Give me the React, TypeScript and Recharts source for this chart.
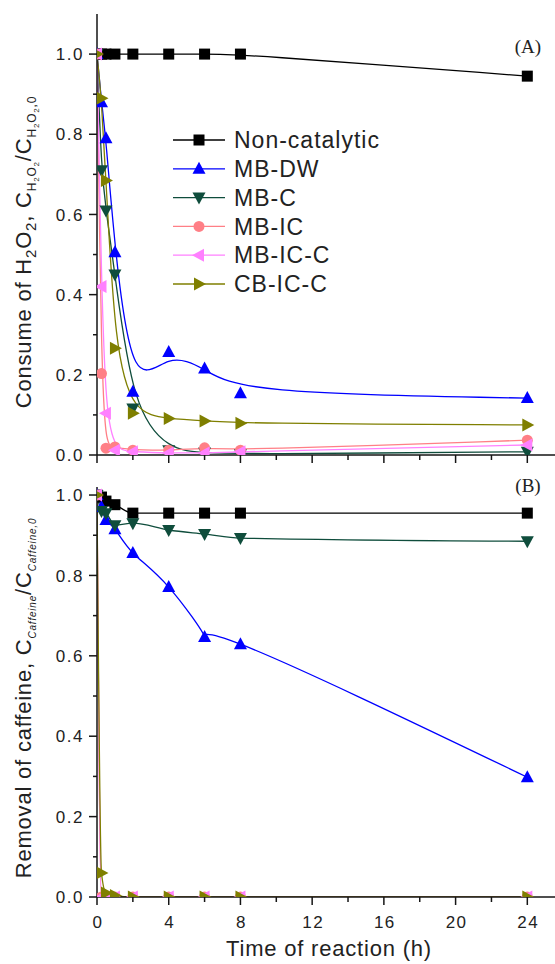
import { Line, LineChart, XAxis, YAxis } from 'recharts';

// sampling times (h)
const time = [0, 0.25, 0.5, 1, 2, 4, 6, 8, 24];

// (A) H2O2 consumption, C/C0
const h2o2NonCat = [1.0, 1.0, 1.0, 1.0, 1.0, 1.0, 1.0, 1.0, 0.945];
const h2o2MbDw = [1.0, 0.88, 0.79, 0.506, 0.158, 0.257, 0.216, 0.154, 0.142];
const h2o2MbC = [1.0, 0.71, 0.61, 0.45, 0.116, 0.012, 0.006, 0.002, 0.008];
const h2o2MbIc = [1.0, 0.203, 0.017, 0.02, 0.012, 0.012, 0.018, 0.012, 0.037];
const h2o2MbIcC = [1.0, 0.42, 0.104, 0.012, 0.008, 0.005, 0.005, 0.008, 0.025];
const h2o2CbIcC = [1.0, 0.89, 0.685, 0.266, 0.104, 0.091, 0.085, 0.079, 0.075];

// (B) caffeine removal, C/C0
const cafNonCat = [1.0, 0.995, 0.985, 0.976, 0.955, 0.955, 0.955, 0.955, 0.955];
const cafMbDw = [1.0, 0.97, 0.938, 0.915, 0.856, 0.771, 0.647, 0.629, 0.298];
const cafMbC = [1.0, 0.96, 0.955, 0.925, 0.93, 0.913, 0.903, 0.893, 0.885];
const cafMbIc = [1.0, 0, 0, 0, 0, 0, 0, 0, 0];
const cafMbIcC = [1.0, 0, 0, 0, 0, 0, 0, 0, 0];
const cafCbIcC = [1.0, 0.06, 0.01, 0.004, 0, 0, 0, 0, 0];

const xTicks = [0, 2, 4, 6, 8, 10, 12, 14, 16, 18, 20, 22, 24];
const yTicks = [0, 0.1, 0.2, 0.3, 0.4, 0.5, 0.6, 0.7, 0.8, 0.9, 1.0];

const seriesNames = ['Non-catalytic', 'MB-DW', 'MB-C', 'MB-IC', 'MB-IC-C', 'CB-IC-C'];
const seriesKeys = ['nonCat', 'mbDw', 'mbC', 'mbIc', 'mbIcC', 'cbIcC'];
const seriesColors = ['#000000', '#0000FF', '#0F4D3C', '#FF7F86', '#FF80FF', '#7F7F00'];
const seriesShapes = ['square', 'up', 'down', 'circle', 'left', 'right'];

type Curve = 'basis' | 'monotone' | 'natural';
const h2o2Curves: Curve[] = ['basis', 'basis', 'basis', 'basis', 'basis', 'basis'];
const cafCurves: Curve[] = ['monotone', 'natural', 'monotone', 'monotone', 'monotone', 'monotone'];

const toRows = (cols: number[][]) =>
  time.map((t, i) => {
    const row: Record<string, number> = { t };
    seriesKeys.forEach((k, j) => (row[k] = cols[j][i]));
    return row;
  });

const h2o2Data = toRows([h2o2NonCat, h2o2MbDw, h2o2MbC, h2o2MbIc, h2o2MbIcC, h2o2CbIcC]);
const cafData = toRows([cafNonCat, cafMbDw, cafMbC, cafMbIc, cafMbIcC, cafCbIcC]);

const font = '"Liberation Sans", Arial, sans-serif';
const axisColor = '#151515';
const X_MAX = 25.6;

function Marker({ shape, cx, cy, color }: { shape: string; cx: number; cy: number; color: string }) {
  switch (shape) {
    case 'square':
      return <rect x={cx - 5.5} y={cy - 5.5} width={11} height={11} fill={color} />;
    case 'up':
      return <polygon points={`${cx},${cy - 7} ${cx + 6.5},${cy + 5} ${cx - 6.5},${cy + 5}`} fill={color} />;
    case 'down':
      return <polygon points={`${cx - 6.5},${cy - 5} ${cx + 6.5},${cy - 5} ${cx},${cy + 7}`} fill={color} />;
    case 'circle':
      return <circle cx={cx} cy={cy} r={5.5} fill={color} />;
    case 'left':
      return <polygon points={`${cx - 7},${cy} ${cx + 5},${cy - 6.5} ${cx + 5},${cy + 6.5}`} fill={color} />;
    default:
      return <polygon points={`${cx + 7},${cy} ${cx - 5},${cy - 6.5} ${cx - 5},${cy + 6.5}`} fill={color} />;
  }
}

const isMajorX = (v: number) => v % 4 === 0;
const isMajorY = (v: number) => Math.round(v * 10) % 2 === 0;

const tickText = {
  fontFamily: font,
  fontSize: 17,
  letterSpacing: 1.5,
  fill: '#222',
};

const bottomTick = (labels: boolean) => (p: any) => {
  const v = p.payload.value;
  const len = isMajorX(v) ? 8 : 5;
  return (
    <g>
      <line x1={p.x} x2={p.x} y1={p.y} y2={p.y + len} stroke={axisColor} strokeWidth={1.5} />
      {labels && isMajorX(v) && (
        <text x={p.x + 1} y={p.y + 31} textAnchor="middle" {...tickText}>
          {v}
        </text>
      )}
    </g>
  );
};

const topTick = (p: any) => {
  const len = isMajorX(p.payload.value) ? 8 : 4;
  return <line x1={p.x} x2={p.x} y1={p.y} y2={p.y + len} stroke={axisColor} strokeWidth={1.5} />;
};

const leftTick = (p: any) => {
  const v = p.payload.value;
  const len = isMajorY(v) ? 8 : 4;
  return (
    <g>
      <line x1={p.x - len} x2={p.x} y1={p.y} y2={p.y} stroke={axisColor} strokeWidth={1.5} />
      {isMajorY(v) && (
        <text x={p.x - 13} y={p.y} dy="0.36em" textAnchor="end" {...tickText}>
          {v.toFixed(1)}
        </text>
      )}
    </g>
  );
};

const rightTick = (p: any) => {
  const len = isMajorY(p.payload.value) ? 7 : 3;
  return <line x1={p.x - len} x2={p.x} y1={p.y} y2={p.y} stroke={axisColor} strokeWidth={1.5} />;
};

function Panel({
  data,
  yMax,
  curves,
  top,
  height,
  marginTop,
  xHeight,
  labels,
  topAxis,
}: {
  data: Record<string, number>[];
  yMax: number;
  curves: Curve[];
  top: number;
  height: number;
  marginTop: number;
  xHeight: number;
  labels: boolean;
  topAxis: boolean;
}) {
  return (
    <div style={{ position: 'absolute', left: 0, top }}>
      <LineChart width={575} height={height} data={data} margin={{ top: marginTop, right: 19, left: 0, bottom: 0 }}>
        <XAxis
          dataKey="t"
          type="number"
          domain={[0, X_MAX]}
          allowDataOverflow
          ticks={xTicks}
          interval={0}
          height={xHeight}
          tickSize={0}
          tickMargin={0}
          tickLine={false}
          tick={bottomTick(labels)}
          axisLine={{ stroke: axisColor, strokeWidth: 1.5 }}
        />
        {topAxis && (
          <XAxis
            xAxisId="top"
            orientation="top"
            dataKey="t"
            type="number"
            domain={[0, X_MAX]}
            allowDataOverflow
            ticks={xTicks}
            interval={0}
            height={0}
            tickSize={0}
            tickMargin={0}
            tickLine={false}
            tick={topTick}
            axisLine={{ stroke: axisColor, strokeWidth: 1.5 }}
          />
        )}
        <YAxis
          type="number"
          domain={[0, yMax]}
          allowDataOverflow
          ticks={yTicks}
          interval={0}
          width={97}
          tickSize={0}
          tickMargin={0}
          tickLine={false}
          tick={leftTick}
          axisLine={{ stroke: axisColor, strokeWidth: 1.5 }}
        />
        <YAxis
          yAxisId="right"
          orientation="right"
          type="number"
          domain={[0, yMax]}
          allowDataOverflow
          ticks={yTicks}
          interval={0}
          width={0}
          tickSize={0}
          tickMargin={0}
          tickLine={false}
          tick={rightTick}
          axisLine={{ stroke: axisColor, strokeWidth: 1.5 }}
        />
        {seriesKeys.map((k, j) => (
          <Line
            key={k}
            dataKey={k}
            type={curves[j]}
            stroke={seriesColors[j]}
            strokeWidth={1.3}
            isAnimationActive={false}
            activeDot={false}
            dot={(p: any) => (
              <Marker key={`${k}-${p.index}`} shape={seriesShapes[j]} cx={p.cx} cy={p.cy} color={seriesColors[j]} />
            )}
          />
        ))}
      </LineChart>
    </div>
  );
}

type Part = [string, number, number, boolean?];

function Rich({ parts, x, y, rotate }: { parts: Part[]; x: number; y: number; rotate?: boolean }) {
  let prev = 0;
  return (
    <text
      x={x}
      y={y}
      textAnchor="middle"
      transform={rotate ? `rotate(-90, ${x}, ${y})` : undefined}
      fontFamily={font}
      fill="#222"
      letterSpacing={0.8}
    >
      {parts.map(([t, s, o, it], i) => {
        const dy = o - prev;
        prev = o;
        return (
          <tspan key={i} fontSize={s} dy={dy} fontStyle={it ? 'italic' : 'normal'}>
            {t}
          </tspan>
        );
      })}
    </text>
  );
}

const h2o2Title: Part[] = [
  ['Consume of H', 22, 0],
  ['2', 15, 5],
  ['O', 22, 0],
  ['2', 15, 5],
  [', C', 22, 0],
  ['H', 12, 5],
  ['2', 8, 8],
  ['O', 12, 5],
  ['2', 8, 8],
  ['/C', 22, 0],
  ['H', 12, 5],
  ['2', 8, 8],
  ['O', 12, 5],
  ['2', 8, 8],
  [',0', 12, 5],
];

const cafTitle: Part[] = [
  ['Removal of caffeine, C', 22, 0],
  ['Caffeine', 10, 5, true],
  ['/C', 22, 0],
  ['Caffeine,0', 10, 5, true],
];

export default function App() {
  return (
    <div
      style={{
        position: 'absolute',
        left: 0,
        top: 0,
        width: 555,
        height: 964,
        overflow: 'hidden',
        background: '#fff',
      }}
    >
      <Panel data={h2o2Data} yMax={1.1} curves={h2o2Curves} top={0} height={470} marginTop={14} xHeight={15} labels={false} topAxis />
      <Panel data={cafData} yMax={1.02} curves={cafCurves} top={470} height={494} marginTop={17} xHeight={67} labels topAxis={false} />
      <svg width={555} height={964} style={{ position: 'absolute', left: 0, top: 0, pointerEvents: 'none' }}>
        <Rich parts={h2o2Title} x={31} y={252} rotate />
        <Rich parts={cafTitle} x={31} y={698} rotate />
        <Rich parts={[['Time of reaction (h)', 22, 0]]} x={329} y={956} />
        <text x={528} y={53} textAnchor="middle" fontFamily='"Liberation Serif", "Times New Roman", serif' fontSize={19} fill="#222">
          (A)
        </text>
        <text x={528} y={492} textAnchor="middle" fontFamily='"Liberation Serif", "Times New Roman", serif' fontSize={19} fill="#222">
          (B)
        </text>
        {seriesNames.map((name, j) => {
          const y = 140 + j * 28.8;
          return (
            <g key={name}>
              <line x1={173} x2={225} y1={y} y2={y} stroke={seriesColors[j]} strokeWidth={1.3} />
              <Marker shape={seriesShapes[j]} cx={199} cy={y} color={seriesColors[j]} />
              <text x={234} y={y} dy="0.36em" fontFamily={font} fontSize={23} letterSpacing={1} fill="#222">
                {name}
              </text>
            </g>
          );
        })}
      </svg>
    </div>
  );
}
